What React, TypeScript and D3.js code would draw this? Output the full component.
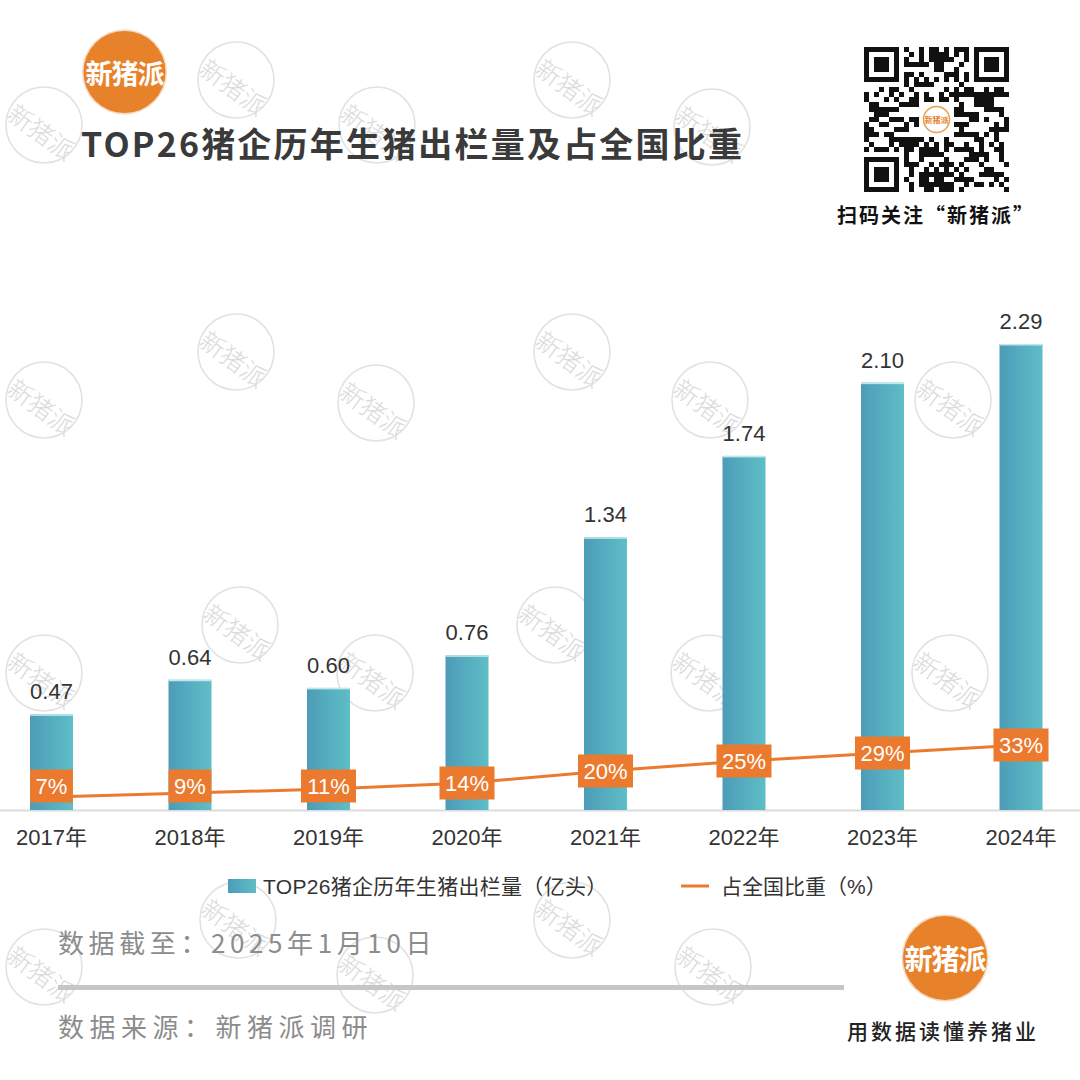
import React from 'react';
import * as d3 from 'd3';

// ---- data ----
const years = ['2017年', '2018年', '2019年', '2020年', '2021年', '2022年', '2023年', '2024年'];
const volumes = [0.47, 0.64, 0.6, 0.76, 1.34, 1.74, 2.1, 2.29];
const shares = [7, 9, 11, 14, 20, 25, 29, 33];
const titleText = 'TOP26猪企历年生猪出栏量及占全国比重';
const legendBar = 'TOP26猪企历年生猪出栏量（亿头）';
const legendLine = '占全国比重（%）';
const footDate = '数据截至：2025年1月10日';
const footSource = '数据来源：新猪派调研';
const brand = '新猪派';
const slogan = '用数据读懂养猪业';
const qrCaption = '扫码关注“新猪派”';

const ORANGE = '#EB7A2F';
const CJK = '"Noto Sans CJK SC", sans-serif';
const NUM = '"Liberation Sans", Arial, "Noto Sans CJK SC", sans-serif';

// decorative watermark centres
const watermarks: [number, number][] = [
  [236, 80], [572, 80], [44, 125], [377, 125], [712, 127],
  [236, 352], [572, 352], [44, 400], [376, 403], [710, 400], [953, 400],
  [240, 625], [555, 625], [44, 673], [375, 673], [709, 673], [950, 673],
  [238, 920], [572, 920], [44, 967], [375, 975], [713, 967],
];

function Watermark({ x, y }: { x: number; y: number }) {
  return (
    <g transform={`translate(${x},${y})`}>
      <circle r={38} fill="none" stroke="#e2e2e2" strokeWidth={1.6} />
      <text
        transform="translate(-2,6) rotate(36)"
        textAnchor="middle"
        dominantBaseline="central"
        fontFamily={CJK}
        fontWeight={300}
        fontSize={25}
        fill="#dadada"
      >
        {brand}
      </text>
    </g>
  );
}

function Logo({ x, y, r, fs }: { x: number; y: number; r: number; fs: number }) {
  return (
    <g transform={`translate(${x},${y})`}>
      <circle r={r + 1.5} fill="#f6d9bf" />
      <circle r={r} fill="#E8822A" />
      <text
        textAnchor="middle"
        dominantBaseline="central"
        fontFamily={CJK}
        fontWeight={700}
        fontSize={fs}
        fill="#fff"
        letterSpacing={-1}
      >
        {brand}
      </text>
    </g>
  );
}

function QR({ x0, y0 }: { x0: number; y0: number }) {
  const n = 29;
  const m = 5;
  const cells: JSX.Element[] = [];
  const inFinder = (i: number, j: number) =>
    (i < 8 && j < 8) || (i < 8 && j > n - 9) || (i > n - 9 && j < 8);
  const finderBlack = (i: number, j: number) => {
    const fi = i > n - 9 ? i - (n - 7) : i;
    const fj = j > n - 9 ? j - (n - 7) : j;
    if (fi < 0 || fj < 0 || fi > 6 || fj > 6) return false;
    if (fi === 0 || fi === 6 || fj === 0 || fj === 6) return true;
    if (fi >= 2 && fi <= 4 && fj >= 2 && fj <= 4) return true;
    return false;
  };
  for (let i = 0; i < n; i++) {
    for (let j = 0; j < n; j++) {
      let black = false;
      if (inFinder(i, j)) black = finderBlack(i, j);
      else if (i === 6) black = j % 2 === 0;
      else if (j === 6) black = i % 2 === 0;
      else if (i >= 11 && i <= 17 && j >= 11 && j <= 17) black = false;
      else {
        const h = ((i * 7919 + j * 104729 + i * j * 31) ^ (i * 131 + j * 17)) % 13;
        black = h < 6;
      }
      if (black)
        cells.push(<rect key={`${i}-${j}`} x={x0 + j * m} y={y0 + i * m} width={m} height={m} fill="#111" />);
    }
  }
  const c = x0 + (n * m) / 2;
  const cy = y0 + (n * m) / 2;
  return (
    <g>
      {cells}
      <rect x={c - 17} y={cy - 17} width={34} height={34} rx={3} fill="#fff" />
      <circle cx={c} cy={cy} r={13} fill="#fff" stroke="#E8A050" strokeWidth={1.5} />
      <text x={c} y={cy} textAnchor="middle" dominantBaseline="central" fontFamily={CJK} fontSize={8} fontWeight={700} fill="#E8822A">
        {brand}
      </text>
    </g>
  );
}

export default function App() {
  const x = d3.scalePoint<string>().domain(years).range([51.5, 1021]);
  const y = d3.scaleLinear().domain([0, 2.5]).range([810, 810 - 2.5 * 203.5]);
  const y2 = d3.scaleLinear().domain([0, 40]).range([811, 731]);
  const barW = 43;

  const line = d3
    .line<number>()
    .x((_, i) => x(years[i]) as number)
    .y((d) => y2(d));

  const labelW = (s: string) => {
    const digits = s.replace('%', '').length;
    return (digits * 0.556 + 0.889) * 22 + 11;
  };

  return (
    <svg width={1080} height={1080} style={{ position: 'absolute', left: 0, top: 0, background: '#fff' }}>
      <defs>
        <linearGradient id="barGrad" x1="0" x2="1" y1="0" y2="0">
          <stop offset="0" stopColor="#4C9CB8" />
          <stop offset="1" stopColor="#5FBEC6" />
        </linearGradient>
      </defs>
      <rect width={1080} height={1080} fill="#fff" />

      {watermarks.map(([wx, wy], i) => (
        <Watermark key={i} x={wx} y={wy} />
      ))}

      {/* header */}
      <Logo x={124.5} y={72} r={41} fs={27} />
      <text x={81} y={157} fontFamily={CJK} fontWeight={700} fontSize={34} fill="#3a3a3a" letterSpacing={2.2}>
        {titleText}
      </text>
      <rect x={858} y={42} width={156} height={156} fill="#fff" />
      <QR x0={864} y0={47} />
      <text x={936} y={223} textAnchor="middle" fontFamily={CJK} fontWeight={700} fontSize={20} fill="#111" letterSpacing={2}>
        {qrCaption}
      </text>

      {/* axis baseline */}
      <line x1={0} x2={1080} y1={810.5} y2={810.5} stroke="#dcdcdc" strokeWidth={2} />

      {/* bars */}
      {volumes.map((v, i) => {
        const cx = x(years[i]) as number;
        const top = y(v);
        return (
          <g key={years[i]}>
            <rect x={cx - barW / 2} y={top} width={barW} height={y(0) - top} fill="url(#barGrad)" />
            <rect x={cx - barW / 2} y={top} width={barW} height={1.5} fill="#bfe8ec" />
            <text x={cx} y={top - 15} textAnchor="middle" fontFamily={NUM} fontSize={22} fill="#333">
              {v.toFixed(2)}
            </text>
          </g>
        );
      })}

      {/* line */}
      <path d={line(shares) || ''} fill="none" stroke={ORANGE} strokeWidth={3} />
      {shares.map((s, i) => {
        const cx = x(years[i]) as number;
        const lbl = `${s}%`;
        const w = labelW(lbl);
        const cy = Math.min(y2(s), 786);
        return (
          <g key={`s${i}`}>
            <rect x={cx - w / 2} y={cy - 16.5} width={w} height={33} fill={ORANGE} />
            <text x={cx} y={cy + 8} textAnchor="middle" fontFamily={NUM} fontSize={22} fill="#fff">
              {lbl}
            </text>
          </g>
        );
      })}

      {/* x labels */}
      {years.map((yr) => (
        <text key={yr} x={x(yr) as number} y={845} textAnchor="middle" fontFamily={NUM} fontSize={22} fill="#333">
          {yr}
        </text>
      ))}

      {/* legend */}
      <rect x={228} y={879} width={28} height={14} fill="url(#barGrad)" />
      <text x={263} y={894} fontFamily={NUM} fontSize={21} fill="#333" letterSpacing={0.3}>
        {legendBar}
      </text>
      <line x1={681} x2={709} y1={886} y2={886} stroke={ORANGE} strokeWidth={3} />
      <text x={721} y={894} fontFamily={NUM} fontSize={21} fill="#333">
        {legendLine}
      </text>

      {/* footer */}
      <text x={58} y={953} fontFamily={CJK} fontSize={26} fill="#8c8c8c" letterSpacing={4.6}>
        {footDate}
      </text>
      <line x1={58} x2={844} y1={987.5} y2={987.5} stroke="#c6c6c6" strokeWidth={5} />
      <text x={58} y={1037} fontFamily={CJK} fontSize={26} fill="#8c8c8c" letterSpacing={5.5}>
        {footSource}
      </text>
      <Logo x={945} y={958} r={42} fs={28} />
      <text x={943} y={1039} textAnchor="middle" fontFamily={CJK} fontWeight={500} fontSize={21} fill="#222" letterSpacing={3}>
        {slogan}
      </text>
    </svg>
  );
}
